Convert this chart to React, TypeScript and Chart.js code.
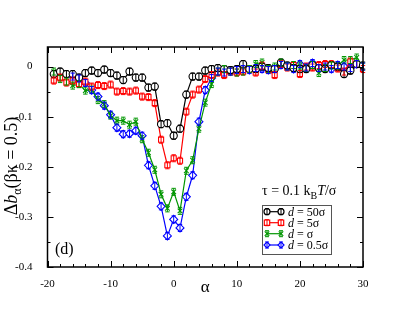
import React, { useEffect, useRef } from "react";
import { Chart, registerables } from "chart.js";

Chart.register(...registerables);

const alphaFull = [-19, -18, -17, -16, -15, -14, -13, -12, -11, -10, -9, -8, -7, -6, -5, -4, -3, -2, -1, 0, 1, 2, 3, 4, 5, 6, 7, 8, 9, 10, 11, 12, 13, 14, 15, 16, 17, 18, 19, 20, 21, 22, 23, 24, 25, 26, 27, 28, 29, 30];
const alphaBlue = [-16, -15, -14, -13, -12, -11, -10, -9, -8, -7, -6, -5, -4, -3, -2, -1, 0, 1, 2, 3, 4, 5, 6, 7, 8, 9, 10, 11, 12, 13, 14, 15, 16, 17, 18, 19, 20, 21, 22, 23, 24, 25, 26, 27, 28, 29, 30];

const d50 = [-0.015, -0.010, -0.015, -0.015, -0.022, -0.013, -0.008, -0.013, -0.006, -0.013, -0.018, -0.027, -0.010, -0.022, -0.022, -0.042, -0.040, -0.115, -0.113, -0.138, -0.124, -0.056, -0.020, -0.020, -0.008, -0.005, -0.003, -0.005, -0.007, -0.005, 0.005, -0.005, -0.005, 0.000, -0.003, -0.005, 0.008, 0.002, -0.003, -0.005, -0.005, 0.003, -0.003, -0.005, 0.003, 0.000, -0.015, -0.008, 0.005, 0.002];
const d5 = [-0.028, -0.022, -0.032, -0.028, -0.035, -0.030, -0.040, -0.037, -0.039, -0.036, -0.050, -0.049, -0.050, -0.048, -0.060, -0.061, -0.073, -0.146, -0.197, -0.183, -0.188, -0.090, -0.056, -0.046, -0.025, -0.017, -0.012, -0.017, -0.010, -0.012, -0.010, -0.005, -0.012, 0.002, -0.007, -0.017, 0.005, -0.002, 0.003, -0.015, 0.000, -0.002, 0.003, 0.005, 0.005, -0.004, -0.010, 0.010, 0.005, -0.005];
const d1 = [-0.010, -0.025, -0.030, -0.038, -0.035, -0.048, -0.046, -0.067, -0.075, -0.098, -0.108, -0.108, -0.116, -0.110, -0.145, -0.172, -0.206, -0.255, -0.283, -0.250, -0.288, -0.208, -0.187, -0.124, -0.072, -0.035, -0.010, -0.005, -0.010, -0.012, -0.010, -0.005, 0.005, 0.008, -0.005, 0.000, 0.008, 0.000, 0.003, 0.002, -0.003, 0.003, -0.013, -0.003, 0.002, 0.002, 0.013, 0.013, 0.018, 0.000];
const d05 = [-0.020, -0.024, -0.033, -0.047, -0.060, -0.078, -0.096, -0.122, -0.135, -0.134, -0.128, -0.138, -0.197, -0.238, -0.279, -0.338, -0.305, -0.322, -0.260, -0.217, -0.110, -0.047, -0.023, -0.010, -0.012, -0.010, -0.007, -0.005, -0.007, -0.003, -0.005, -0.007, -0.005, 0.003, 0.000, -0.005, 0.005, -0.002, 0.007, -0.003, 0.000, -0.005, 0.003, 0.000, -0.003, 0.005, 0.000];

const seriesLabels = ["50σ", "5σ", "σ", "0.5σ"];
const xTickValues = [-20, -10, 0, 10, 20, 30];
const yTickValues = [-0.4, -0.3, -0.2, -0.1, 0];

const colors = ["#000000", "#ff0000", "#009600", "#0000ff"];
const pointStyles = ["circle", "rect", "crossRot", "rectRot"];

const SERIF = "'Liberation Serif', 'DejaVu Serif', serif";

function drawMarker(ctx: CanvasRenderingContext2D, style: string, x: number, y: number, r: number, color: string) {
  ctx.save();
  ctx.strokeStyle = color;
  ctx.fillStyle = "#ffffff";
  ctx.lineWidth = 1.2;
  ctx.beginPath();
  if (style === "circle") {
    ctx.arc(x, y, r, 0, Math.PI * 2);
    ctx.fill();
    ctx.stroke();
  } else if (style === "rect") {
    const s = r * 0.9;
    ctx.rect(x - s, y - s, 2 * s, 2 * s);
    ctx.fill();
    ctx.stroke();
  } else if (style === "crossRot") {
    const s = r * 0.75;
    ctx.moveTo(x - s, y - s);
    ctx.lineTo(x + s, y + s);
    ctx.moveTo(x - s, y + s);
    ctx.lineTo(x + s, y - s);
    ctx.stroke();
  } else {
    ctx.moveTo(x, y - r);
    ctx.lineTo(x + r, y);
    ctx.lineTo(x, y + r);
    ctx.lineTo(x - r, y);
    ctx.closePath();
    ctx.fill();
    ctx.stroke();
  }
  ctx.beginPath();
  ctx.moveTo(x, y - 3);
  ctx.lineTo(x, y + 3);
  ctx.moveTo(x - 2, y - 3);
  ctx.lineTo(x + 2, y - 3);
  ctx.moveTo(x - 2, y + 3);
  ctx.lineTo(x + 2, y + 3);
  ctx.lineWidth = 1;
  ctx.stroke();
  ctx.restore();
}

const decorPlugin = {
  id: "decor",
  afterDatasetsDraw(chart: any) {
    const ctx: CanvasRenderingContext2D = chart.ctx;
    chart.data.datasets.forEach((ds: any, i: number) => {
      const meta = chart.getDatasetMeta(i);
      meta.data.forEach((pt: any) => {
        ctx.save();
        ctx.strokeStyle = colors[i];
        ctx.lineWidth = 1;
        ctx.beginPath();
        ctx.moveTo(pt.x, pt.y - 3.5);
        ctx.lineTo(pt.x, pt.y + 3.5);
        ctx.moveTo(pt.x - 2.2, pt.y - 3.5);
        ctx.lineTo(pt.x + 2.2, pt.y - 3.5);
        ctx.moveTo(pt.x - 2.2, pt.y + 3.5);
        ctx.lineTo(pt.x + 2.2, pt.y + 3.5);
        ctx.stroke();
        ctx.restore();
      });
    });
  },
  afterDraw(chart: any) {
    const ctx: CanvasRenderingContext2D = chart.ctx;
    const { left, right, top, bottom } = chart.chartArea;
    const xs = chart.scales.x;
    const ys = chart.scales.y;
    ctx.save();
    ctx.strokeStyle = "#000";
    ctx.lineWidth = 1.5;
    ctx.strokeRect(left, top, right - left, bottom - top);
    ctx.lineWidth = 1;
    ctx.beginPath();
    for (let v = -20; v <= 30; v += 2) {
      const px = Math.round(xs.getPixelForValue(v)) + 0.5;
      const len = v % 10 === 0 ? 6 : 3;
      ctx.moveTo(px, bottom);
      ctx.lineTo(px, bottom - len);
      ctx.moveTo(px, top);
      ctx.lineTo(px, top + len);
    }
    for (let k = -8; k <= 0; k++) {
      const v = k * 0.05;
      const py = Math.round(ys.getPixelForValue(v)) + 0.5;
      const len = k % 2 === 0 ? 6 : 3;
      ctx.moveTo(left, py);
      ctx.lineTo(left + len, py);
      ctx.moveTo(right, py);
      ctx.lineTo(right - len, py);
    }
    ctx.stroke();

    ctx.fillStyle = "#000";
    ctx.textBaseline = "alphabetic";
    ctx.font = `17px ${SERIF}`;
    ctx.textAlign = "center";
    ctx.fillText("α", (left + right) / 2, 292);

    ctx.save();
    ctx.translate(16.5, 166);
    ctx.rotate(-Math.PI / 2);
    ctx.textAlign = "left";
    const parts: [string, string, number][] = [
      ["Δ", `18px ${SERIF}`, 0],
      ["b", `italic 18px ${SERIF}`, 0],
      ["α", `12px ${SERIF}`, 4],
      ["(βκ = 0.5)", `18px ${SERIF}`, 0],
    ];
    let total = 0;
    parts.forEach(([t, f]) => {
      ctx.font = f;
      total += ctx.measureText(t).width;
    });
    let cx = -total / 2;
    parts.forEach(([t, f, dy]) => {
      ctx.font = f;
      ctx.fillText(t, cx, dy);
      cx += ctx.measureText(t).width;
    });
    ctx.restore();

    ctx.textAlign = "left";
    ctx.font = `16px ${SERIF}`;
    ctx.fillText("(d)", 55, 254);

    const tparts: [string, string, number][] = [
      ["τ = 0.1 k", `14px ${SERIF}`, 0],
      ["B", `10px ${SERIF}`, 4],
      ["T", `italic 14px ${SERIF}`, 0],
      ["/σ", `14px ${SERIF}`, 0],
    ];
    let tx = 262;
    tparts.forEach(([t, f, dy]) => {
      ctx.font = f;
      ctx.fillText(t, tx, 195 + dy);
      tx += ctx.measureText(t).width;
    });

    ctx.strokeStyle = "#555";
    ctx.lineWidth = 1;
    ctx.strokeRect(262.5, 205.5, 69, 49);
    const rows = [211.7, 222.7, 233.7, 245];
    seriesLabels.forEach((lab, i) => {
      const y = rows[i];
      ctx.strokeStyle = colors[i];
      ctx.lineWidth = 1.2;
      ctx.beginPath();
      ctx.moveTo(267, y);
      ctx.lineTo(281, y);
      ctx.stroke();
      drawMarker(ctx, pointStyles[i], 267, y, 3, colors[i]);
      drawMarker(ctx, pointStyles[i], 281, y, 3, colors[i]);
      ctx.fillStyle = "#000";
      let lx = 288;
      ctx.font = `italic 12px ${SERIF}`;
      ctx.fillText("d", lx, y + 4);
      lx += ctx.measureText("d").width;
      ctx.font = `12px ${SERIF}`;
      ctx.fillText(" = " + lab, lx, y + 4);
    });
    ctx.restore();
  },
};

export default function App() {
  const ref = useRef<HTMLCanvasElement | null>(null);
  useEffect(() => {
    if (!ref.current) return;
    const mk = (xs: number[], ys: number[]) => xs.map((x, i) => ({ x, y: ys[i] }));
    const all = [mk(alphaFull, d50), mk(alphaFull, d5), mk(alphaFull, d1), mk(alphaBlue, d05)];
    const chart = new Chart(ref.current, {
      type: "line",
      data: {
        datasets: all.map((data, i) => ({
          label: "d = " + seriesLabels[i],
          data,
          borderColor: colors[i],
          backgroundColor: "#ffffff",
          pointBorderColor: colors[i],
          pointBackgroundColor: "#ffffff",
          pointStyle: pointStyles[i] as any,
          pointRadius: pointStyles[i] === "crossRot" ? 3.3 : pointStyles[i] === "rectRot" ? 4 : 3.6,
          pointBorderWidth: 1.1,
          borderWidth: 1.2,
          tension: 0,
          fill: false,
        })),
      },
      options: {
        responsive: false,
        animation: false,
        devicePixelRatio: 1,
        layout: { padding: { top: 47, right: 46, left: 0, bottom: 0 } },
        plugins: { legend: { display: false }, tooltip: { enabled: false } },
        scales: {
          x: {
            type: "linear",
            min: -20,
            max: 30,
            grid: { display: false },
            border: { display: false },
            afterBuildTicks: (s: any) => {
              s.ticks = xTickValues.map((v) => ({ value: v }));
            },
            afterFit: (s: any) => {
              s.height = 49;
            },
            ticks: {
              padding: 3,
              color: "#000",
              font: { family: SERIF, size: 11 },
              maxRotation: 0,
              autoSkip: false,
              callback: (v: any) => String(v),
            },
          },
          y: {
            type: "linear",
            min: -0.4,
            max: 0.039,
            grid: { display: false },
            border: { display: false },
            afterBuildTicks: (s: any) => {
              s.ticks = yTickValues.map((v) => ({ value: v }));
            },
            afterFit: (s: any) => {
              s.width = 47.5;
            },
            ticks: {
              padding: 7,
              color: "#000",
              font: { family: SERIF, size: 11 },
              autoSkip: false,
              callback: (v: any) => (Math.abs(v) < 1e-9 ? "0" : Number(v).toFixed(1)),
            },
          },
        },
      },
      plugins: [decorPlugin],
    });
    return () => chart.destroy();
  }, []);
  return (
    <div style={{ position: "fixed", left: 0, top: 0, width: 409, height: 316, background: "#fff" }}>
      <canvas ref={ref} width={409} height={316} style={{ width: 409, height: 316 }} />
    </div>
  );
}
